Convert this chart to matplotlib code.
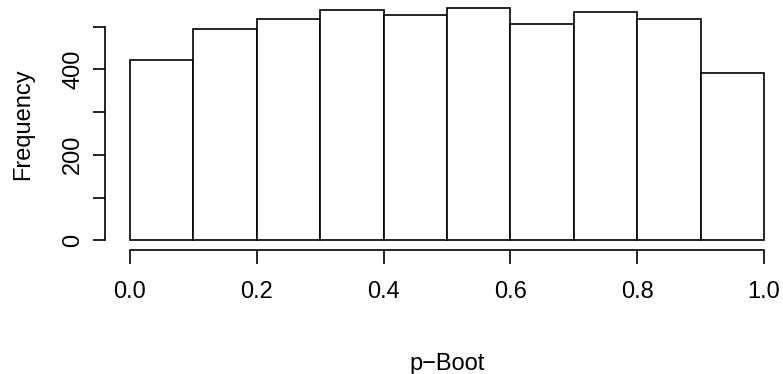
import numpy as np
import matplotlib
matplotlib.use("Agg")
import matplotlib.pyplot as plt

# histogram of bootstrap p-values (counts)
bin_edges = [0.0, 0.1, 0.2, 0.3, 0.4, 0.5, 0.6, 0.7, 0.8, 0.9, 1.0]
counts = [422, 494, 518, 539, 527, 544, 507, 534, 518, 391]
x_ticks = [0.0, 0.2, 0.4, 0.6, 0.8, 1.0]
x_tick_labels = ["0.0", "0.2", "0.4", "0.6", "0.8", "1.0"]
y_ticks = [0, 100, 200, 300, 400, 500]
y_tick_labels = ["0", "", "200", "", "400", ""]

narrow = ["Liberation Sans Narrow", "Liberation Sans", "DejaVu Sans"]
wide = ["Liberation Sans", "DejaVu Sans"]

fig = plt.figure(figsize=(7.83, 3.74), dpi=100)
W, H = 783, 374
ax = fig.add_axes([104.6 / W, (H - 249.5) / H, 684.7 / W, (249.5 + 1.4) / H])

left = np.array(bin_edges[:-1])
widths = np.diff(bin_edges)
ax.bar(left, counts, width=widths, align="edge", facecolor="white",
       edgecolor="black", linewidth=1.2)

# R style limits: 4% padding on each side
ymax = max(counts)
ax.set_xlim(-0.04, 1.04)
ax.set_ylim(-0.04 * ymax, 1.04 * ymax)

for s in ["top", "right"]:
    ax.spines[s].set_visible(False)
ax.spines["left"].set_bounds(0, 500)
ax.spines["bottom"].set_bounds(0, 1)
ax.spines["left"].set_linewidth(1.2)
ax.spines["bottom"].set_linewidth(1.2)

ax.set_xticks(x_ticks)
ax.set_xticklabels(x_tick_labels, family=narrow, fontsize=17)
ax.set_yticks(y_ticks)
ax.set_yticklabels(y_tick_labels, family=wide, fontsize=17, rotation=90,
                   va="center")
ax.tick_params(axis="x", length=10, width=1.2, pad=13)
ax.tick_params(axis="y", length=8.6, width=1.2, pad=6)

fig.text(23.5 / W, 1 - 124 / H, "Frequency", rotation=90, ha="center",
         va="center", family=wide, fontsize=17)
fig.text(447 / W, 1 - 364 / H, "p\u2212Boot", ha="center", va="center",
         family=narrow, fontsize=17)

fig.savefig("out.png", dpi=100)
